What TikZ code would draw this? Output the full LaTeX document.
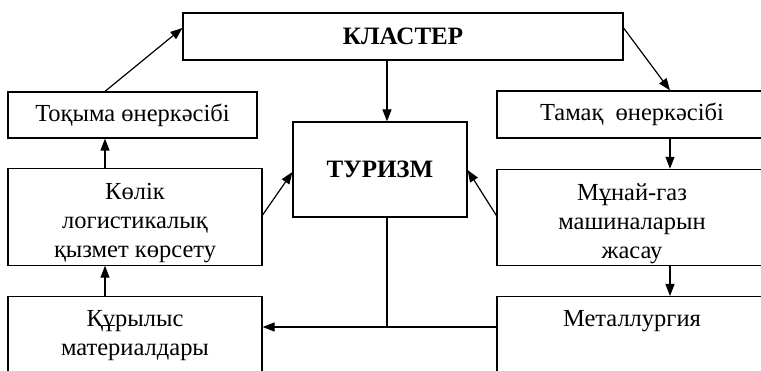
\documentclass[tikz,border=0pt]{standalone}
\usepackage{fontspec}
\setmainfont{Liberation Serif}
\usetikzlibrary{arrows.meta,positioning}

\begin{document}
\begin{tikzpicture}[x=1pt,y=-1pt,
    caja/.style={draw,line width=1.2pt,rectangle,align=center,inner sep=2pt,
                 font=\fontsize{24.5}{29}\selectfont},
    titulo/.style={font=\fontsize{25}{29}\selectfont\bfseries},
    flecha/.style={line width=1.2pt,-{Triangle[length=12pt,width=9pt]}},
    linea/.style={line width=1.2pt}]
\useasboundingbox (0,0) rectangle (761,371);
\clip (0,0) rectangle (761,371);

%---------------------------------------------------------------------------------------- COLUMNAS
\coordinate (colizq) at (105,0);
\coordinate (colcen) at (387,0);
\coordinate (colder) at (670,0);
\coordinate (cruce) at (387,327);

%---------------------------------------------------------------------------------------- CAJAS
\node[caja,titulo,minimum width=440,minimum height=47] (klaster) at (403,36.5) {КЛАСТЕР};
\node[caja,minimum width=249,minimum height=46] (tokyma) at (132.5,115) {Тоқыма өнеркәсібі};
\node[caja,minimum width=270,minimum height=47] (tamak) at (632,114.5) {Тамақ~ өнеркәсібі};
\node[caja,titulo,minimum width=174,minimum height=95] (turizm) at (380,169.5) {ТУРИЗМ};
\node[caja,minimum width=254,minimum height=94] (kolik) at (135,217)
     {\rule{0pt}{29pt}Көлік\\логистикалық\\қызмет көрсету};
\node[caja,minimum width=270,minimum height=93] (munai) at (632,217.5)
     {\rule{0pt}{29pt}Мұнай-газ\\машиналарын\\жасау};
\node[caja,minimum width=254,anchor=north,inner ysep=14pt] (kurylys) at (135,296)
     {Құрылыс\\материалдары\\\strut\\\strut};
\node[caja,minimum width=270,anchor=north,inner ysep=14pt] (metal) at (632,296)
     {Металлургия\\\strut\\\strut\\\strut};

%---------------------------------------------------------------------------------------- FLECHAS
\draw[flecha] (tokyma.north -| colizq) -- ([yshift=8.5]klaster.west);   %--------------- hacia arriba
\draw[flecha] ([yshift=8.5]klaster.east) -- (tamak.north -| colder);
\draw[flecha] (klaster.south -| colcen) -- (turizm.north -| colcen);

\draw[flecha] (kolik.north -| colizq) -- (tokyma.south -| colizq);     %--------------- columna izquierda
\draw[flecha] (kurylys.north -| colizq) -- (kolik.south -| colizq);
\draw[flecha] ([yshift=2]kolik.east) -- ([yshift=-2.5]turizm.west);

\draw[flecha] (tamak.south -| colder) -- (munai.north -| colder);      %--------------- columna derecha
\draw[flecha] (munai.south -| colder) -- (metal.north -| colder);
\draw[flecha] ([yshift=2]munai.west) -- ([yshift=-0.5]turizm.east);

\draw[linea] (turizm.south -| colcen) -- (cruce);                      %--------------- linea inferior
\draw[flecha] (metal.west |- cruce) -- (kurylys.east |- cruce);

\end{tikzpicture}
\end{document}
